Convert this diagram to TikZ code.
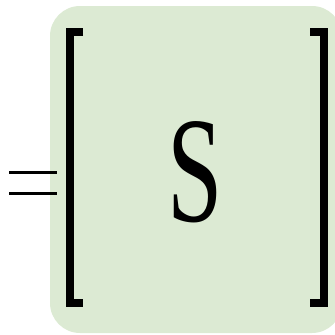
\documentclass[tikz,border=0pt]{standalone}
\usepackage{fontspec}
\setmainfont{Liberation Serif}
\definecolor{boxgreen}{RGB}{220,234,211}
\tikzset{
  brk/.style={line width=8pt, line cap=butt, line join=miter},
  eqline/.style={line width=3pt, line cap=butt}
}
\begin{document}
\begin{tikzpicture}[x=1pt,y=-1pt]
\useasboundingbox (0,0) rectangle (335,335);
\begin{scope}
\clip (0,0) rectangle (335,335);
\fill[boxgreen, rounded corners=30pt] (50,6) rectangle (342,333);
\end{scope}
\node[inner sep=0pt] (S) at (195,172.5) {\scalebox{0.66}[1]{\fontsize{151}{151}\selectfont S}};
\coordinate (lt) at (83,32);
\coordinate (lb) at (83,303);
\coordinate (rt) at (310,32);
\coordinate (rb) at (310,303);
\draw[brk] (lt) -- (70,32) -- (70,303) -- (lb);
\draw[brk] (rt) -- (324,32) -- (324,303) -- (rb);
\coordinate (e1a) at (9,172.5);
\coordinate (e1b) at (57,172.5);
\coordinate (e2a) at (9,193.5);
\coordinate (e2b) at (57,193.5);
\draw[eqline] (e1a) -- (e1b);
\draw[eqline] (e2a) -- (e2b);
\end{tikzpicture}
\end{document}
